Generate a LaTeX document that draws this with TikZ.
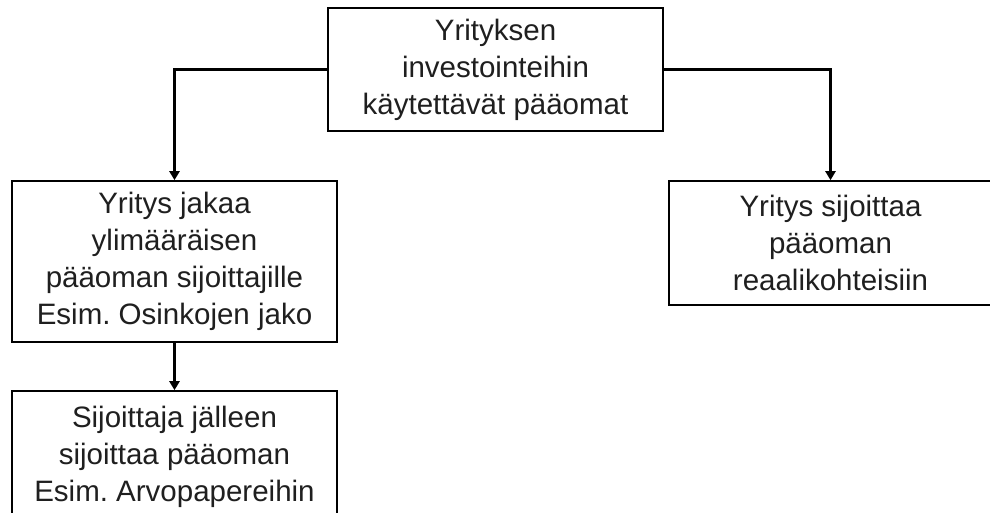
\documentclass[tikz,border=0pt]{standalone}
\usepackage{fontspec}
\setmainfont{Liberation Sans}
\usetikzlibrary{arrows.meta}
\frenchspacing
\begin{document}
\begin{tikzpicture}[x=1pt,y=-1pt,
  box/.style={draw=black, line width=1.6pt, rectangle, inner sep=0pt, align=center,
    text=black!88, font=\fontsize{29.5}{37}\selectfont},
  conn/.style={line width=3.4pt, -{Triangle[length=9pt,width=10pt]}}]
\useasboundingbox (0,0) rectangle (990,513);
\clip (0,0) rectangle (990,513);
\node[box, minimum width=335pt, minimum height=123pt] (top) at (495.5,69.5)
  {Yrityksen\\investointeihin\\käytettävät pääomat};
\node[box, minimum width=325pt, minimum height=161pt] (b1) at (174.5,261.5)
  {Yritys jakaa\\ylimääräisen\\pääoman sijoittajille\\Esim. Osinkojen jako};
\node[box, minimum width=325pt, minimum height=132pt] (b2) at (174.5,457)
  {Sijoittaja jälleen\\sijoittaa pääoman\\Esim. Arvopapereihin};
\node[box, minimum width=323pt, minimum height=124pt] (r) at (830.5,243)
  {Yritys sijoittaa\\pääoman\\reaalikohteisiin};
\draw[conn] (top.west) -| (b1.north);
\draw[conn] (top.east) -| (r.north);
\draw[conn] (b1.south) -- (b2.north);
\end{tikzpicture}
\end{document}
